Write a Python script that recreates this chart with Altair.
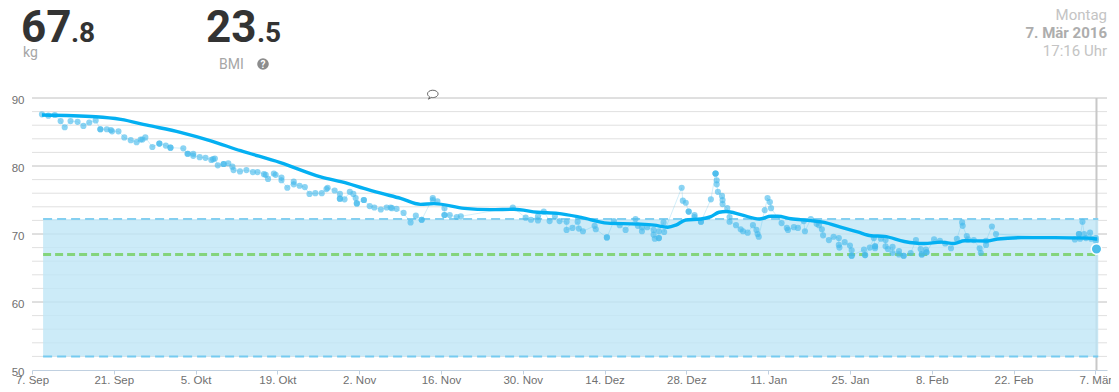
import altair as alt
import pandas as pd

# Weight measurements: day offset from 7 Sep 2015, kg
days_autumn = [1.7,2.8,3.9,4.9,5.6,6.6,7.8,8.8,9.8,10.9,11.7,11.7,12.8,13.5,13.7,14.8,15.8,16.9,17.9,18.6,18.9,19.4,20.6,21.8,21.8,22.9,23.7,23.7,25.9,26.6,26.7,27.6,27.6,28.7,29.7,30.7,31.0,31.3,31.8,32.8,32.8,33.6,34.3,34.5,35.6,36.7,37.8,38.6,39.7,40.0,40.4,41.4,41.7,42.7,42.7,43.7,44.8,44.8,45.8,46.7,47.5,48.5,49.6,50.4,50.6,51.8,52.7,52.7,52.7,53.5,54.4,55.0,55.4,55.6,55.6,56.8,56.8,57.8]
kg_autumn = [87.6,87.4,87.5,86.6,85.7,86.6,86.5,85.9,86.4,86.7,85.4,85.4,85.4,85.3,85.1,85.1,84.2,83.8,83.5,83.9,83.9,84.2,82.8,83.3,83.3,83.0,82.7,82.7,82.6,81.8,81.8,81.8,81.5,81.3,81.2,80.9,81.0,81.1,80.1,80.3,80.3,80.4,79.9,79.4,79.2,79.4,79.1,79.1,78.8,78.7,78.1,78.9,78.7,78.3,77.9,76.8,77.7,77.3,77.1,76.9,75.9,76.0,76.0,76.6,76.8,76.4,75.9,75.2,75.2,75.1,76.2,75.9,75.3,74.5,74.5,75.0,75.0,74.1]

days_winter = [58.6,59.7,60.7,61.4,61.6,62.4,63.6,64.8,65.7,66.7,66.7,68.6,68.6,69.4,70.6,70.6,70.6,71.5,72.7,73.4,82.3,84.5,85.4,86.6,86.6,87.6,88.6,89.5,90.3,91.5,91.5,92.5,93.4,93.6,94.3,96.3,96.5,98.4,98.4,99.6,100.6,101.6,103.3,103.7,104.4,104.4,105.3,106.4,106.4,106.6,107.3,107.3,107.3,108.1,108.2,111.2,111.4,111.9,112.4,112.4,113.4,113.4,114.5,114.5,116.2,117.0,117.0,117.0,117.2,117.2,117.4,118.1,118.2,118.2,119.0,119.4,119.4,120.5,121.3]
kg_winter = [73.9,73.6,73.9,73.9,73.8,73.7,73.1,71.7,72.7,72.1,72.1,75.3,75.0,74.8,73.8,72.8,72.8,72.8,72.5,72.6,73.9,72.4,72.1,72.6,72.0,73.3,71.9,72.6,71.9,71.8,70.6,70.9,71.8,70.8,70.4,71.2,70.7,69.5,69.5,71.9,71.3,70.6,72.2,71.2,71.0,70.4,71.0,70.6,69.9,69.3,69.4,69.4,70.4,71.7,70.3,76.8,74.9,74.6,73.3,73.3,72.8,72.5,71.8,71.8,75.1,78.9,78.9,78.9,77.9,77.3,76.2,75.6,75.0,74.4,73.8,72.5,71.8,71.3,70.7]

days_spring = [121.7,122.5,123.4,124.0,124.2,124.4,125.4,125.9,126.3,126.5,128.3,129.2,129.4,130.4,131.1,132.1,132.3,133.3,134.3,134.7,135.2,135.4,136.4,137.2,138.1,138.1,138.2,139.1,140.0,140.3,140.3,140.3,142.4,142.6,142.6,143.4,144.1,144.3,144.3,144.3,145.3,146.1,146.1,146.5,147.3,147.3,148.4,148.4,149.2,149.2,150.4,151.3,152.1,152.3,152.3,153.0,153.1,153.1,154.4,155.4,156.3,157.3,158.3,159.2,159.3,160.0,160.2,161.2,162.2,162.4,163.3,163.3,164.3,165.0,178.5,179.2,179.2,179.4,179.8,180.1,180.4,181.1,181.3,182.1,182.1]
kg_spring = [70.4,70.2,71.3,70.6,70.0,69.6,73.5,75.3,74.7,73.8,71.6,70.9,70.6,71.0,70.9,71.9,70.4,72.2,71.5,71.3,70.7,69.8,69.1,69.6,69.4,68.4,68.0,68.8,68.3,67.6,66.8,66.8,67.7,66.9,66.9,68.0,69.4,68.2,68.2,67.9,69.3,69.1,68.2,67.8,68.1,67.2,67.5,67.0,66.8,66.8,67.2,69.1,67.8,67.0,67.0,67.7,67.3,67.3,69.2,69.0,68.6,67.9,69.3,71.7,71.2,69.7,69.2,69.1,67.9,67.2,68.4,69.0,71.1,70.0,69.2,70.0,70.0,69.3,71.8,70.0,69.4,70.2,69.3,69.4,69.0]

latest_day = [182.2]
latest_kg = [67.8]

trend_days = [1.7,10.9,15.2,19.7,25.4,30.6,35.7,42.5,49.4,54.0,56.8,59.7,63.1,66.5,68.8,74.0,78.5,82.5,86.5,90.0,94.0,98.5,103.6,106.5,108.8,110.2,111.9,114.5,116.2,117.6,118.8,121.3,124.5,126.5,127.6,129.9,133.3,135.6,138.4,141.3,143.6,145.9,149.3,152.7,155.6,157.8,159.6,163.6,165.3,169.3,175.0,180.7,182.3]
trend_kg = [87.5,87.25,86.86,86.0,84.95,83.7,82.25,80.5,78.4,77.45,76.7,76.0,75.24,74.36,74.46,73.77,73.58,73.63,73.2,73.04,72.45,71.6,71.47,71.3,71.0,71.3,72.06,72.2,72.55,73.2,73.3,72.85,72.2,72.6,72.6,72.25,71.96,71.7,71.0,70.3,69.75,69.65,68.9,68.6,68.8,68.6,69.0,68.97,69.26,69.46,69.46,69.4,69.26]

tick_days = list(range(0, 183, 14))
tick_labels = ["7. Sep","21. Sep","5. Okt","19. Okt","2. Nov","16. Nov","30. Nov","14. Dez","28. Dez","11. Jan","25. Jan","8. Feb","22. Feb","7. Mär"]
major_grid = [60, 70, 80, 90]
minor_grid = [52,54,56,58,62,64,66,68,72,74,76,78,82,84,86,88]
band_low, band_high, target_kg = 52.0, 72.2, 67.0
band_start, band_end = 1.9, 182.5
comment_day, comment_kg = 68.6, 90.6

X = alt.Scale(domain=[0, 184], nice=False)
Y = alt.Scale(domain=[50, 90], nice=False)
label_map = "{" + ",".join(f"'{d}':'{l}'" for d, l in zip(tick_days, tick_labels)) + "}"

x_axis = alt.Axis(values=tick_days, labelExpr=f"{label_map}[datum.value]", title=None, grid=False,
                  domainColor="#c0d0e0", tickColor="#c0d0e0", tickSize=4, labelFont="Liberation Sans",
                  labelFontSize=11.5, labelColor="#707070", labelPadding=0, labelOverlap=False,
                  labelFlush=False)
y_axis = alt.Axis(values=[50, 60, 70, 80, 90], title=None, grid=False, domain=False, ticks=False,
                  labelFont="Liberation Sans", labelFontSize=11.5, labelColor="#707070", labelPadding=8,
                  labelOffset=2)

points = pd.DataFrame({"day": days_autumn + days_winter + days_spring,
                       "kg": kg_autumn + kg_winter + kg_spring})
trend = pd.DataFrame({"day": trend_days, "kg": trend_kg})
latest = pd.DataFrame({"day": latest_day, "kg": latest_kg})

def xe(field="day"):
    return alt.X(f"{field}:Q", scale=X, axis=x_axis)

def ye(field="kg"):
    return alt.Y(f"{field}:Q", scale=Y, axis=y_axis)

grid_minor = alt.Chart(pd.DataFrame({"kg": minor_grid})).mark_rule(color="#e0e0e0", strokeWidth=1).encode(y=ye())
grid_major = alt.Chart(pd.DataFrame({"kg": major_grid})).mark_rule(color="#c0c0c0", strokeWidth=1).encode(y=ye())
cursor = alt.Chart(pd.DataFrame({"day": latest_day})).mark_rule(color="#c8c8c8", strokeWidth=2).encode(x=xe())

band_df = pd.DataFrame({"a": [band_start], "b": [band_end], "lo": [band_low], "hi": [band_high]})
band = alt.Chart(band_df).mark_rect(fill="#bfe6f6", opacity=0.8).encode(
    x=xe("a"), x2="b:Q", y=ye("lo"), y2="hi:Q")

def hline(value, color, width, dash):
    df = pd.DataFrame({"a": [band_start], "b": [band_end], "v": [value]})
    return alt.Chart(df).mark_rule(color=color, strokeWidth=width, strokeDash=dash).encode(
        x=xe("a"), x2="b:Q", y=ye("v"))

band_top = hline(band_high, "#84cff0", 2, [9, 5])
band_bottom = hline(band_low, "#76cbf0", 2, [9, 5])
target = hline(target_kg, "#84d47c", 3, [8, 4])

connector = alt.Chart(points).mark_line(color="#35b4ea", strokeWidth=1, opacity=0.22).encode(x=xe(), y=ye())
dots = alt.Chart(points).mark_circle(color="#45b9ec", opacity=0.62, size=38).encode(x=xe(), y=ye())
trend_line = alt.Chart(trend).mark_line(color="#04b0f2", strokeWidth=3.4, interpolate="monotone").encode(x=xe(), y=ye())
last_dot = alt.Chart(latest).mark_point(filled=True, fill="#4dbdea", stroke="#ffffff", strokeWidth=1.5,
                                        opacity=1, size=110, shape="circle").encode(x=xe(), y=ye())

bubble_path = "M-0.5,0 A0.5,0.35 0 1 1 0.5,0 A0.5,0.35 0 0 1 -0.15,0.33 L-0.4,0.5 L-0.3,0.27 A0.5,0.35 0 0 1 -0.5,0 Z"
comment = alt.Chart(pd.DataFrame({"day": [comment_day], "kg": [comment_kg]})).mark_point(
    shape=bubble_path, filled=False, stroke="#555555", strokeWidth=0.9, fill="#ffffff", size=450, opacity=1).encode(
    x=xe(), y=ye())

def label(text, px, py, size, color, weight="normal", align="left"):
    return alt.Chart(pd.DataFrame({"t": [text]})).mark_text(
        font="Roboto", fontSize=size, color=color, fontWeight=weight, align=align, baseline="alphabetic").encode(
        text="t:N", x=alt.value(px), y=alt.value(py))

header = [
    label("67", -11, -56, 44, "#333333", "bold"),
    label(".8", 39, -56, 28, "#333333", "bold"),
    label("kg", -9, -41, 14, "#a6a6a6"),
    label("23", 174, -56, 44, "#333333", "bold"),
    label(".5", 225, -56, 28, "#333333", "bold"),
    label("BMI", 187, -29, 14, "#a6a6a6"),
    label("?", 231, -30.5, 10, "#ffffff", "bold", "center"),
    label("Montag", 1075, -78, 15, "#c4c4c4", "normal", "right"),
    label("7. Mär 2016", 1075, -60, 15, "#adadad", "bold", "right"),
    label("17:16 Uhr", 1075, -42, 15, "#c4c4c4", "normal", "right"),
]
help_disc = alt.Chart(pd.DataFrame({"t": [1]})).mark_point(
    filled=True, fill="#8c8c8c", opacity=1, size=135, shape="circle").encode(
    x=alt.value(231), y=alt.value(-34))

chart = alt.layer(
    grid_minor, grid_major, cursor, band, band_top, band_bottom, target,
    connector, dots, trend_line, last_dot, comment, help_disc, *header
).properties(
    width=1075, height=272,
    autosize=alt.AutoSizeParams(type="none"),
    padding={"left": 24, "top": 90, "right": 4, "bottom": 20},
).configure_view(stroke=None)

chart.save("out.html", embed_options={"renderer": "svg", "actions": False})
